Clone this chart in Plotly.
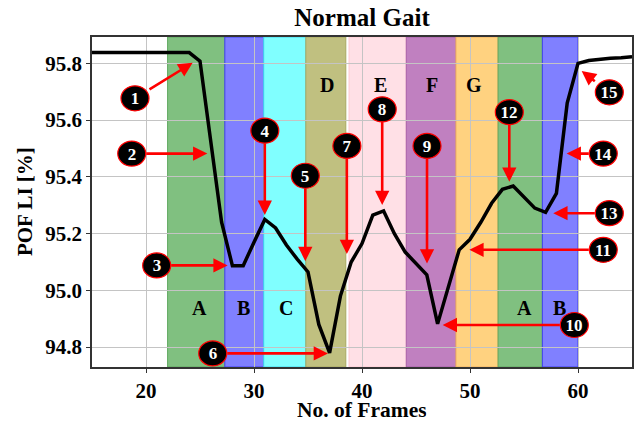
import plotly.graph_objects as go

# ---- data ----
frames = list(range(15, 66))
pof_li = [95.838, 95.838, 95.836, 95.838, 95.838, 95.837, 95.838, 95.838, 95.838, 95.838,
          95.808, 95.52, 95.24, 95.087, 95.087, 95.17, 95.25, 95.22, 95.16, 95.11,
          95.065, 94.88, 94.78, 94.98, 95.10, 95.165, 95.265, 95.28, 95.20, 95.135,
          95.095, 95.055, 94.882, 95.01, 95.143, 95.18, 95.24, 95.307, 95.356, 95.368,
          95.33, 95.29, 95.275, 95.342, 95.66, 95.80, 95.81, 95.815, 95.818, 95.82, 95.823]

x_ticks = [20, 30, 40, 50, 60]
y_ticks = [94.8, 95.0, 95.2, 95.4, 95.6, 95.8]
y_tick_labels = ["94.8", "95.0", "95.2", "95.4", "95.6", "95.8"]

phase_labels = ["A", "B", "C", "D", "E", "F", "G", "A", "B"]
phase_starts = [22, 27.3, 30.9, 34.8, 38.8, 44.1, 48.7, 52.6, 56.7]
phase_ends = [27.3, 30.9, 34.8, 38.5, 44.1, 48.7, 52.6, 56.7, 60]
phase_fill = ["#80C080", "#8080FF", "#80FFFF", "#C0C080", "#FFE0E6",
              "#C080C0", "#FFD280", "#80C080", "#8080FF"]
phase_edge = ["#5FA85F", "#4040F0", "#40D8F0", "#A8A860", "#FFC8D0",
              "#A860A8", "#F0B060", "#5FA85F", "#4040F0"]
label_x = [24.94, 29.01, 32.96, 36.79, 41.67, 46.45, 50.4, 55.09, 58.33]
label_y = [94.939, 94.939, 94.939, 95.724, 95.724, 95.724, 95.724, 94.939, 94.939]

marker_ids = [str(i) for i in range(1, 16)]
marker_x = [18.98, 18.68, 20.99, 31.0, 34.75, 26.18, 38.6, 41.87, 46.02, 59.66, 62.34, 53.64, 62.9, 62.34, 62.9]
marker_y = [95.677, 95.482, 95.088, 95.563, 95.404, 94.778, 95.509, 95.638, 95.509, 94.878, 95.143, 95.628, 95.272, 95.482, 95.698]
tip_x = [24.32, 25.68, 27.56, 31.0, 34.75, 36.85, 38.6, 41.87, 46.02, 47.47, 49.94, 53.64, 57.71, 58.95, 60.34]
tip_y = [95.802, 95.482, 95.088, 95.266, 95.103, 94.778, 95.128, 95.301, 95.095, 94.878, 95.143, 95.383, 95.272, 95.482, 95.773]

FONT = "Liberation Serif"

fig = go.Figure()
fig.add_trace(go.Scatter(x=frames, y=pof_li, mode="lines",
                         line=dict(color="black", width=3.5), showlegend=False,
                         hoverinfo="skip"))

shapes = []
for s, e, fc, ec in zip(phase_starts, phase_ends, phase_fill, phase_edge):
    shapes.append(dict(type="rect", xref="x", yref="paper", x0=s, x1=e, y0=0, y1=1,
                       fillcolor=fc, line=dict(color=ec, width=1), layer="below"))

for mx, my in zip(marker_x, marker_y):
    shapes.append(dict(type="circle", xref="x", yref="y", xsizemode="pixel", ysizemode="pixel",
                       xanchor=mx, yanchor=my, x0=-14, x1=14, y0=-12.5, y1=12.5,
                       fillcolor="black", line=dict(color="red", width=1.2), layer="above"))

annotations = []
for t, lx, ly in zip(phase_labels, label_x, label_y):
    annotations.append(dict(x=lx, y=ly, xref="x", yref="y", text="<b>%s</b>" % t,
                            showarrow=False, font=dict(family=FONT, size=20, color="black")))

for t, mx, my, tx, ty in zip(marker_ids, marker_x, marker_y, tip_x, tip_y):
    annotations.append(dict(x=tx, y=ty, xref="x", yref="y", ax=mx, ay=my, axref="x", ayref="y",
                            text="<b>%s</b>" % t, showarrow=True, arrowhead=2, arrowsize=1.1,
                            arrowwidth=2.6, arrowcolor="red", width=26, height=22,
                            font=dict(family=FONT, size=17, color="white")))

# axis titles
annotations.append(dict(x=0.5, y=-0.130, xref="paper", yref="paper", text="<b>No. of Frames</b>",
                        showarrow=False, xanchor="center", yanchor="middle", height=20,
                        font=dict(family=FONT, size=21.5, color="black")))
annotations.append(dict(x=-0.124, y=0.5, xref="paper", yref="paper", text="<b>POF LI [%]</b>",
                        showarrow=False, xanchor="center", yanchor="middle", textangle=-90,
                        font=dict(family=FONT, size=21, color="black")))

fig.update_layout(
    width=634, height=422,
    margin=dict(l=92, r=2, t=37, b=55, autoexpand=False),
    paper_bgcolor="white", plot_bgcolor="white",
    title=dict(text="<b>Normal Gait</b>", x=0.571, xanchor="center", y=0.98, yanchor="top",
               font=dict(family=FONT, size=25, color="black")),
    shapes=shapes, annotations=annotations,
    font=dict(family=FONT, color="black"),
)
fig.update_xaxes(range=[15, 65], tickvals=x_ticks, ticktext=["<b>%d</b>" % v for v in x_ticks],
                 automargin=False,
                 showgrid=True, gridcolor="#C4C4C4", gridwidth=1,
                 showline=True, linecolor="#333333", linewidth=1.5, mirror=True,
                 ticks="outside", ticklen=4, tickcolor="#333333", zeroline=False,
                 tickfont=dict(family=FONT, size=21, color="black"))
fig.update_yaxes(range=[94.73, 95.893], tickvals=y_ticks, ticktext=["<b>%s</b>" % s for s in y_tick_labels],
                 automargin=False,
                 showgrid=True, gridcolor="#C4C4C4", gridwidth=1,
                 showline=True, linecolor="#333333", linewidth=1.5, mirror=True,
                 ticks="outside", ticklen=4, tickcolor="#333333", zeroline=False,
                 tickfont=dict(family=FONT, size=21, color="black"))

fig.write_html("out.html", config={"displayModeBar": False},
               post_script="document.body.style.margin='0';")
